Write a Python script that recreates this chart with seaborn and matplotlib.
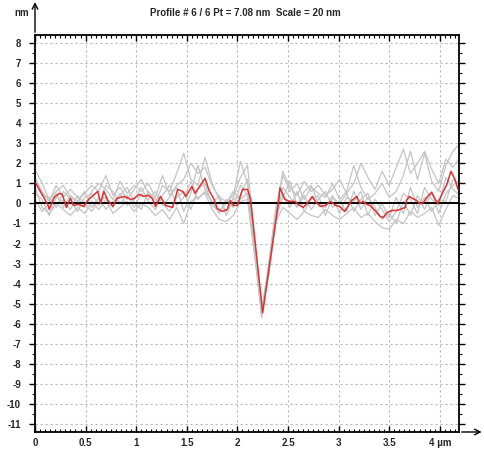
import numpy as np
import pandas as pd
import matplotlib
matplotlib.use("Agg")
import matplotlib.pyplot as plt
from matplotlib.ticker import MultipleLocator
import seaborn as sns

# highlighted profile (red)
red_x = [0.01, 0.13, 0.14, 0.19, 0.24, 0.27, 0.31, 0.35, 0.38, 0.43, 0.48, 0.53,
         0.62, 0.65, 0.68, 0.72, 0.77, 0.81, 0.88, 0.95, 0.98, 1.03, 1.07, 1.12,
         1.16, 1.19, 1.24, 1.29, 1.36, 1.41, 1.46, 1.49, 1.52, 1.55, 1.58, 1.62,
         1.68, 1.72, 1.77, 1.80, 1.85, 1.90, 1.93, 1.96, 2.00, 2.05, 2.10, 2.13,
         2.25, 2.41, 2.42, 2.47, 2.52, 2.57, 2.60, 2.65, 2.69, 2.74, 2.77, 2.82,
         2.87, 2.92, 2.97, 3.01, 3.06, 3.13, 3.18, 3.21, 3.24, 3.28, 3.31, 3.36,
         3.41, 3.44, 3.48, 3.53, 3.58, 3.63, 3.66, 3.67, 3.70, 3.73, 3.77, 3.80,
         3.83, 3.88, 3.92, 3.95, 3.98, 4.02, 4.07, 4.11, 4.15, 4.18]
red_y = [1.0, -0.1, -0.3, 0.3, 0.5, 0.45, -0.2, 0.25, -0.1, -0.05, -0.15, 0.2,
         0.6, 0.0, 0.6, 0.15, -0.15, 0.25, 0.35, 0.2, 0.25, 0.45, 0.35, 0.4,
         0.25, -0.15, 0.35, -0.1, -0.2, 0.7, 0.6, 0.35, 0.6, 0.85, 0.5, 0.8,
         1.25, 0.65, 0.2, -0.25, -0.4, -0.3, 0.15, -0.1, -0.1, 0.7, 0.7, 0.2,
         -5.45, 0.2, 0.78, 0.2, 0.1, 0.1, -0.05, -0.2, 0.0, 0.35, 0.1, -0.15,
         -0.1, 0.1, -0.1, -0.15, -0.4, 0.15, 0.35, 0.0, 0.1, -0.05, -0.1, -0.35,
         -0.65, -0.7, -0.45, -0.35, -0.35, -0.25, -0.2, 0.15, 0.35, 0.25, 0.15, 0.0,
         0.0, 0.35, 0.55, 0.25, 0.0, 0.45, 0.95, 1.6, 1.2, 0.7]

# other profiles (grey), sampled every 0.07 um
grey_x = np.round(np.arange(61) * 0.07, 2)
g1 = [1.7, 1.0, 0.2, 0.6, 0.9, 0.3, 0.1, 0.5, 0.9, 0.6, 1.4, 0.4, 0.8, 0.2, 0.7, 1.2, 0.5, 0.0, 0.9, 0.6,
      1.5, 2.5, 1.2, 0.9, 2.3, 1.0, 0.2, -0.4, 0.3, 1.3, 1.9, -1.8, -5.6, -3.0, -0.2, 1.4, 0.6, 1.0, 0.2, 0.8,
      0.5, 0.3, 1.0, 0.2, 0.6, 1.9, 0.8, 0.2, 0.5, 1.0, 0.3, 0.6, 1.4, 2.6, 1.2, 2.5, 1.1, 0.6, 1.9, 2.6, 3.0]
g2 = [0.8, -0.2, -0.5, 0.0, -0.3, -0.6, -0.2, -0.5, 0.1, -0.3, 0.2, -0.5, -0.2, 0.1, -0.4, 0.0, -0.2, -0.6, -0.3, -0.8,
      -0.2, -1.0, 0.1, 0.3, 0.5, -0.3, -0.8, -0.9, -0.6, 0.1, 0.2, -2.6, -5.4, -3.6, -0.9, -0.2, -0.5, -0.8, -0.4, -0.6,
      -0.7, -0.3, -0.6, -0.8, -0.5, -0.2, -0.7, -0.5, -0.9, -1.2, -1.3, -0.8, -1.0, -0.4, -0.7, -0.5, -0.2, -1.1, -0.3, 0.4, 0.2]
g3 = [1.3, 0.6, 0.1, 0.9, 0.3, 0.7, 0.3, -0.2, 0.6, 1.0, 0.7, 0.2, 1.1, 0.5, 0.9, 0.6, 1.0, 0.3, 1.4, 0.4,
      0.9, 1.2, 2.0, 1.5, 1.8, 0.9, 0.3, 0.1, 0.4, 2.1, 1.0, -2.0, -5.3, -3.1, -0.4, 1.6, 0.8, 0.4, 1.1, 0.6,
      0.9, 0.4, 0.7, 1.2, 0.5, 1.0, 2.0, 1.3, 0.7, 1.6, 0.9, 1.8, 2.7, 1.5, 2.0, 2.6, 1.7, 1.0, 2.2, 1.8, 2.3]
g4 = [0.5, 0.2, -0.6, 0.3, 0.1, -0.3, 0.4, 0.0, -0.4, 0.2, 0.3, -0.2, 0.5, -0.1, 0.2, 0.8, 0.1, -0.3, 0.4, 0.9,
      -0.1, 0.3, 1.1, 0.2, 0.6, 0.1, -0.5, 0.2, -0.2, 0.9, 0.4, -2.4, -5.7, -3.4, -0.7, 0.8, 0.3, -0.2, 0.4, -0.3,
      0.2, 0.6, -0.2, 0.1, -0.4, 0.6, -0.3, 0.3, -0.2, -0.8, -0.5, -1.0, 0.1, -0.6, 0.4, -0.3, 0.6, -0.5, 0.5, 0.9, 1.2]
g5 = [1.0, 0.4, 0.3, -0.2, 0.6, 0.2, -0.4, 0.3, 0.5, -0.1, 0.9, 0.6, 0.0, 0.4, -0.2, 0.5, 0.2, 0.6, -0.1, 0.3,
      0.8, -0.4, 0.5, 1.9, 0.7, 0.0, 0.4, -0.6, 0.2, 0.4, 1.2, -2.2, -5.5, -3.2, -0.5, 0.3, 1.1, -0.1, 0.6, 0.9,
      0.0, -0.2, 0.4, -0.5, 0.3, 0.1, 0.6, -0.6, 0.2, -0.3, -0.9, -0.4, 0.5, 0.2, -0.5, 0.8, 0.2, -0.1, 1.3, 0.7, 0.4]
g6 = [0.2, -0.4, 0.0, 0.5, -0.2, 0.4, 0.1, 0.6, -0.2, 0.3, -0.3, 0.1, 0.4, 0.8, 0.1, -0.3, 0.6, 0.2, 0.0, -0.4,
      0.3, 0.6, -0.3, 0.7, 1.0, -0.1, -0.4, 0.0, 0.6, 0.2, 0.5, -2.4, -5.5, -3.5, -0.8, 0.4, -0.2, 0.6, -0.4, 0.2,
      0.4, -0.6, 0.3, 0.0, 0.5, -0.4, 0.2, 0.5, -0.6, 0.0, -0.7, 0.3, -0.5, 0.8, -0.2, 0.3, -0.4, 0.2, 0.1, 1.2, 0.9]

x_ticks = [0, 0.5, 1, 1.5, 2, 2.5, 3, 3.5, 4]
x_labels = ["0", "0.5", "1", "1.5", "2", "2.5", "3", "3.5", "4 µm"]
y_ticks = list(range(8, -12, -1))

sns.set_style("white")
plt.rcParams['font.family'] = ['Liberation Sans', 'DejaVu Sans']

grey_df = pd.concat([
    pd.DataFrame({"x": grey_x, "y": g, "profile": i})
    for i, g in enumerate([g1, g2, g3, g4, g5, g6])
])

fig = plt.figure(figsize=(4.84, 4.5), dpi=100)
ax = fig.add_axes([35/484, 18/450, 424/484, 397/450])

sns.lineplot(data=grey_df, x="x", y="y", units="profile", estimator=None,
             color="#c4c4c4", lw=0.9, ax=ax, zorder=2)
ax.axhline(0, color="black", lw=1.4, zorder=3)
sns.lineplot(x=red_x, y=red_y, color="#e03030", lw=1.1, ax=ax, zorder=4, sort=False)

ax.set_xlim(0, 4.19)
ax.set_ylim(-11.4, 8.4)
ax.set_xticks(x_ticks)
ax.set_xticklabels(x_labels)
ax.set_yticks(y_ticks)
ax.set_yticklabels([str(v) for v in y_ticks])
ax.xaxis.set_minor_locator(MultipleLocator(0.05))
ax.yaxis.set_minor_locator(MultipleLocator(0.5))
ax.grid(True, which="major", color="#b8b8b8", lw=0.8, ls=(0, (2, 2.5)))
ax.set_xlabel("")
ax.set_ylabel("")

for s in ax.spines.values():
    s.set_color("black")
    s.set_linewidth(1.3)

ax.tick_params(axis="x", which="both", direction="in", top=True, bottom=True,
               labelsize=7, pad=4, color="black")
ax.tick_params(axis="x", which="major", length=4, width=1)
ax.tick_params(axis="x", which="minor", length=2.5, width=0.8)
ax.tick_params(axis="y", which="both", direction="out", left=True, right=True,
               labelsize=7, pad=6, color="black")
ax.tick_params(axis="y", which="major", length=4, width=1)
ax.tick_params(axis="y", which="minor", length=2.5, width=0.8)
for lab in ax.get_xticklabels() + ax.get_yticklabels():
    lab.set_fontweight("bold")

# axis arrows
ax.annotate("", xy=(0, 1.09), xytext=(0, 1.0), xycoords="axes fraction",
            arrowprops=dict(arrowstyle="->", color="black", lw=1, mutation_scale=10),
            annotation_clip=False)
ax.annotate("", xy=(1.06, 0), xytext=(1.0, 0), xycoords="axes fraction",
            arrowprops=dict(arrowstyle="->", color="black", lw=1, mutation_scale=10),
            annotation_clip=False)
fig.text(22/484, 1 - 13/450, "nm", fontsize=7, fontweight="bold", ha="center", va="center")
fig.text(245/484, 1 - 13/450, "Profile # 6 / 6 Pt = 7.08 nm  Scale = 20 nm",
         fontsize=7, fontweight="bold", ha="center", va="center")

fig.savefig("out.png", dpi=100)
